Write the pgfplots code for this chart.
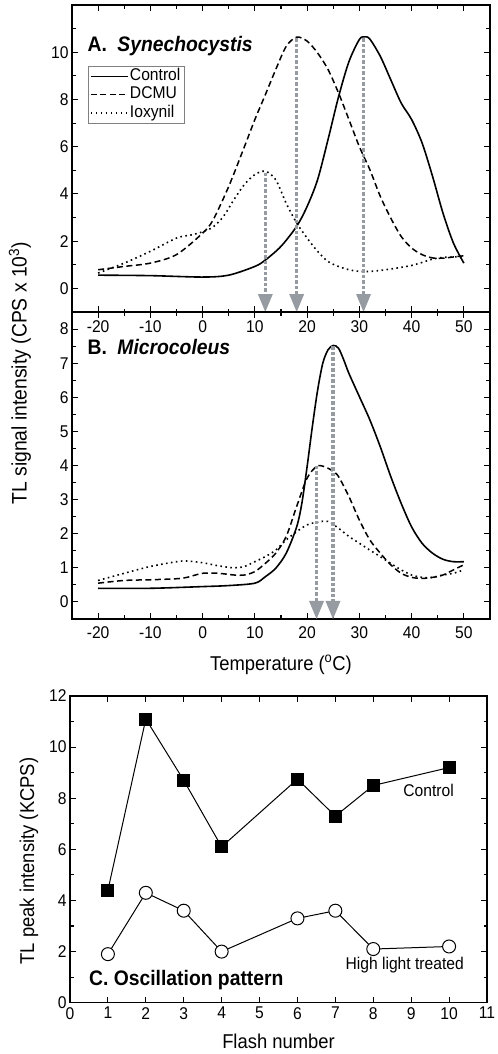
\documentclass[border=0pt]{standalone}
\usepackage{fontspec}
\setmainfont{Liberation Sans}[FakeStretch=0.92]
\usepackage{pgfplots}
\pgfplotsset{compat=1.18}
\definecolor{arr}{RGB}{150,155,162}
\pgfplotsset{
  myax/.style={
    scale only axis,
    axis line style={line width=1.4bp},
    every tick/.style={black, line width=1.1bp},
    major tick length=6bp, minor tick length=3.5bp,
    tick align=inside,
    /pgf/number format/assume math mode=true,
    tick label style={font=\fontsize{17bp}{19bp}\selectfont},
    label style={font=\fontsize{20bp}{23bp}\selectfont},
  },
  ctl/.style={black, line width=1.6bp, solid},
  dcm/.style={black, line width=1.5bp, dash pattern=on 6bp off 3.5bp},
  iox/.style={black, line width=1.6bp, dash pattern=on 1.6bp off 3.4bp},
}
\newcommand{\arrowdown}[4]{%
  \draw[arr, line width=3.5bp, dash pattern=on 3.5bp off 2bp] (axis cs:#1,#2) -- (axis cs:#1,#3);%
  \fill[arr] (axis cs:#1,#4) -- ++(-7.5bp,18bp) -- ++(15bp,0bp) -- cycle;%
}
\begin{document}
\begin{tikzpicture}
\path (0,0) rectangle (498bp,-1054bp);
% ---------------- Panel A
\begin{axis}[myax, at={(72bp,-5bp)}, anchor=north west,
  width=418bp, height=307bp, clip=false,
  xmin=-25, xmax=55, ymin=-1, ymax=12,
  xtick={-20,-10,...,50}, minor xtick={-15,-5,...,45},
  ytick={0,2,...,10}, minor ytick={1,3,...,11},
  xticklabel style={yshift=-5bp},
  legend style={at={(0.038,0.801)}, anchor=north west, draw=gray,
    fill=white, inner xsep=2bp, inner ysep=1bp, row sep=0bp,
    font=\fontsize{17bp}{18.5bp}\selectfont,
    nodes={inner sep=1.4bp, text height=12bp, text depth=3.4bp}},
  legend cell align=left,
  legend image code/.code={\draw[line width=1.5bp,#1] (0bp,0bp) -- (37bp,0bp);},
]
\addplot[ctl, smooth] coordinates {
(-20,0.56) (-10,0.54) (0,0.48) (5,0.56) (10,0.93) (12,1.2) (15,1.78) (18,2.63) (20,3.47)
(22,4.6) (24,6.3) (26,8.1) (28,9.6) (30,10.54) (31,10.65) (32,10.56) (34,9.83) (36,8.84)
(38,7.85) (40,7.15) (42,6.16) (44,4.75) (46,3.19) (48,1.92) (50,1.07)};
\addlegendentry{Control}
\addplot[dcm, smooth] coordinates {
(-20,0.79) (-15,0.93) (-10,1.07) (-5,1.43) (0,2.34) (2,2.9) (5,4.32) (8,6.0) (10,7.15)
(12,8.2) (14,9.27) (16,10.25) (18,10.64) (20,10.47) (22,9.97) (24,9.27) (26,8.28) (28,7.15)
(30,6.0) (32,5.03) (34,3.9) (36,2.98) (38,2.2) (40,1.71) (42,1.43) (44,1.29) (46,1.28)
(48,1.33) (50,1.38)};
\addlegendentry{DCMU}
\addplot[iox, smooth] coordinates {
(-20,0.65) (-15,1.07) (-10,1.57) (-5,2.13) (-2,2.27) (0,2.4) (2,2.6) (4,3.05) (6,3.76)
(8,4.4) (10,4.82) (12,4.96) (14,4.6) (16,3.6) (18,2.77) (20,2.13) (22,1.57) (24,1.14)
(26,0.93) (28,0.79) (30,0.72) (32,0.72) (34,0.76) (36,0.82) (38,0.89) (40,0.97) (42,1.1)
(44,1.24) (46,1.31) (48,1.33) (50,1.36)};
\addlegendentry{Ioxynil}
\arrowdown{12}{4.9}{-0.3}{-1}
\arrowdown{18}{10.6}{-0.3}{-1}
\arrowdown{30.8}{10.6}{-0.3}{-1}
\node[anchor=base west, inner sep=0pt, font=\fontsize{21bp}{24bp}\selectfont\bfseries]
  at (axis cs:-22.05,10.03) {A.\hspace{0.5em}\textit{Synechocystis}};
\end{axis}
% ---------------- Panel B
\begin{axis}[myax, at={(72bp,-312bp)}, anchor=north west,
  width=418bp, height=307bp, clip=false,
  xmin=-25, xmax=55, ymin=-0.5, ymax=8.5,
  xtick={-20,-10,...,50}, minor xtick={-15,-5,...,45},
  ytick={0,1,...,8}, minor ytick={-0.5,0.5,...,8.5},
  xticklabel style={yshift=-4bp},
  xlabel={Temperature (\textsuperscript{o}C)},
  xlabel style={at={(axis description cs:0.5,0)}, anchor=center, yshift=-46bp},
  ylabel={TL signal intensity (CPS x 10\textsuperscript{3})},
  ylabel style={at={(axis description cs:-0.1244,0.801)}, anchor=center,
    font=\fontsize{21bp}{24bp}\selectfont},
]
\addplot[ctl, smooth] coordinates {
(-20,0.4) (-10,0.4) (0,0.45) (5,0.48) (10,0.55) (12,0.74) (14,0.99) (16,1.43) (18,2.2)
(19,2.9) (20,3.97) (21,5.14) (22,6.2) (23,7.0) (24,7.39) (25,7.52) (26,7.44) (27,7.1)
(28,6.7) (30,6.02) (32,5.34) (34,4.55) (36,3.68) (38,2.89) (40,2.2) (42,1.72) (44,1.43)
(46,1.25) (48,1.18) (50,1.18)};
\addplot[dcm, smooth] coordinates {
(-20,0.55) (-15,0.63) (-10,0.65) (-5,0.68) (-3,0.72) (0,0.84) (3,0.84) (6,0.79) (8,0.79)
(10,0.89) (12,1.13) (14,1.43) (16,1.92) (18,2.8) (20,3.63) (22,3.99) (24,3.92) (25,3.82)
(26,3.68) (28,3.09) (30,2.4) (32,1.82) (34,1.43) (36,1.09) (38,0.84) (40,0.72) (42,0.69)
(44,0.72) (46,0.79) (48,0.94) (50,1.09)};
\addplot[iox, smooth] coordinates {
(-20,0.63) (-15,0.84) (-10,1.04) (-5,1.18) (-3,1.2) (0,1.15) (3,1.06) (6,1.0) (8,1.04)
(10,1.18) (12,1.33) (14,1.52) (16,1.82) (18,2.06) (20,2.26) (22,2.34) (24,2.36) (26,2.16)
(28,1.92) (30,1.72) (32,1.52) (34,1.33) (36,1.13) (38,0.94) (40,0.79) (42,0.72) (44,0.72)
(46,0.79) (48,0.84) (50,0.94)};
\arrowdown{21.8}{4.0}{0.02}{-0.5}
\arrowdown{24.95}{7.5}{0.02}{-0.5}
\node[anchor=base west, inner sep=0pt, font=\fontsize{21bp}{24bp}\selectfont\bfseries]
  at (axis cs:-22.05,7.24) {B.\hspace{0.5em}\textit{Microcoleus}};
\end{axis}
% ---------------- Panel C
\begin{axis}[myax, at={(70bp,-696bp)}, anchor=north west,
  width=417bp, height=306.7bp,
  xmin=0, xmax=11, ymin=0, ymax=12,
  xtick={0,1,...,11},
  ytick={0,2,...,12}, minor ytick={1,3,...,11},
  xticklabel style={yshift=-1bp},
  xlabel={Flash number},
  xlabel style={at={(axis description cs:0.5,0)}, anchor=center, yshift=-39bp},
  ylabel={TL peak intensity (KCPS)},
  ylabel style={at={(axis description cs:-0.0983,0.462)}, anchor=center},
  clip=false,
]
\addplot[black, line width=1bp, mark=square*, mark size=6bp,
  mark options={solid, fill=black}] coordinates {
(1,4.4) (2,11.1) (3,8.7) (4,6.1) (6,8.75) (7,7.3) (8,8.5) (10,9.2)};
\addplot[black, line width=1bp, mark=*, mark size=6.5bp,
  mark options={solid, fill=white, line width=1bp}] coordinates {
(1,1.9) (2,4.3) (3,3.6) (4,2.0) (6,3.3) (7,3.6) (8,2.1) (10,2.2)};
\node[font=\fontsize{17bp}{19bp}\selectfont] at (axis cs:9.46,8.29) {Control};
\node[font=\fontsize{17bp}{19bp}\selectfont] at (axis cs:8.83,1.47) {High light treated};
\node[anchor=base west, inner sep=0pt, font=\fontsize{21bp}{24bp}\selectfont\bfseries]
  at (axis cs:0.5,0.69) {C. Oscillation pattern};
\end{axis}
\pgfresetboundingbox
\path[use as bounding box] (0,0) rectangle (498bp,-1054bp);
\end{tikzpicture}
\end{document}
